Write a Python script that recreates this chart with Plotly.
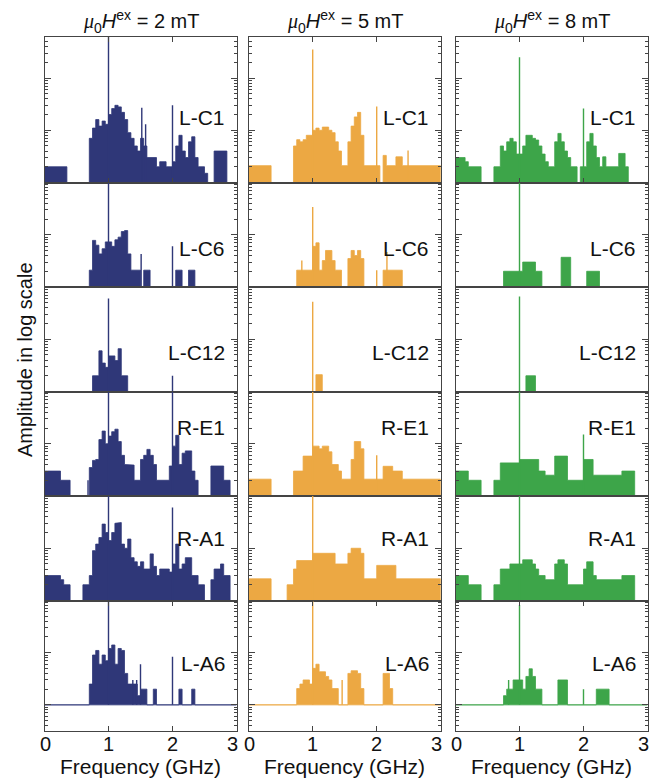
import plotly.graph_objects as go

# ---------------- data ----------------
FREQ_MAX = 3.0
BIN = 0.05          # frequency bin width (GHz) of the amplitude lists
FLOOR = 1.0         # noise floor amplitude (arb. units)

field_labels = ["2 mT", "5 mT", "8 mT"]
sample_labels = ["L-C1", "L-C6", "L-C12", "R-E1", "R-A1", "L-A6"]
freq_ticks = [0, 1, 2, 3]
colors = ["#2f3778", "#eca843", "#3da549"]

# ---- 2 mT ----
a2_LC1 = [2, 2, 2, 2, 2, 2, 2, 1, 1, 1,
          1, 1, 1, 1, 7, 11, 16, 12, 15, 13,
          20, 26, 30, 28, 22, 16, 9, 7, 5, 4,
          7, 5, 3, 3, 3, 2, 2.5, 2.5, 2, 2,
          2.5, 5, 8, 4, 3, 6, 7.5, 3, 2, 2,
          1.5, 1, 1, 4, 4, 4, 4, 1, 1, 1]
s2_LC1 = [(1.0, 1000), (1.52, 27), (1.58, 13), (2.0, 30)]

a2_LC6 = [1, 1, 1, 1, 1, 1, 1, 1, 1, 1,
          1, 1, 1, 1, 2.1, 7.8, 6.3, 4.3, 5.4, 7.3,
          7.3, 6, 8, 9, 11.5, 12, 4.3, 2.1, 2.1, 2.1,
          1, 2.1, 2.1, 1, 1, 1, 1, 1, 1, 1,
          1, 2.1, 2.1, 1, 1, 2.1, 2.1, 1, 1, 1,
          1, 1, 1, 1, 1, 1, 1, 1, 1, 1]
s2_LC6 = [(1.0, 1000), (1.51, 4.3), (2.0, 6)]

a2_LC12 = [1, 1, 1, 1, 1, 1, 1, 1, 1, 1,
           1, 1, 1, 1, 1, 2, 2, 6, 3.5, 2.9,
           4.8, 4.8, 3.9, 6.6, 2, 2, 1, 1, 1, 1,
           1, 1, 1, 1, 1, 1, 1, 1, 1, 1,
           1, 1, 1, 1, 1, 1, 1, 1, 1, 1,
           1, 1, 1, 1, 1, 1, 1, 1, 1, 1]
s2_LC12 = [(1.0, 60), (2.0, 2.0)]

a2_RE1 = [3, 3, 3, 3, 3, 2, 2, 2, 1, 1,
          1, 1, 1, 1, 3.5, 4.8, 5, 12, 17.5, 10,
          14, 17, 19, 11, 6, 4, 3.9, 3.9, 2, 2,
          5, 6, 7.8, 6, 4, 2, 2, 2, 2, 3.75,
          9, 14.5, 4, 6.6, 7.3, 7.3, 3, 2, 1, 1,
          1, 1, 3.75, 3.75, 3.75, 3.75, 2, 2, 1, 1]
s2_RE1 = [(1.0, 1000), (2.0, 1000), (0.68, 2.0)]

a2_RA1 = [3, 3, 3, 3, 3, 2.5, 2, 2, 1, 1,
          1, 1, 2, 2, 3, 9, 12, 16, 29, 20,
          14, 20, 30, 31, 12, 10, 15, 6.6, 5.5, 4.5,
          5.5, 4, 4, 7.8, 4.5, 3, 4, 4, 4, 3.5,
          5, 12, 4, 5, 6.6, 6.6, 3, 3, 2, 2,
          1, 1, 2.5, 4, 4, 5, 3, 3, 1, 1]
s2_RA1 = [(1.0, 1000), (2.0, 60)]

a2_LA6 = [1, 1, 1, 1, 1, 1, 1, 1, 1, 1,
          1, 1, 1, 1, 2.5, 9, 11, 6, 9, 7,
          12, 14, 6, 12, 11, 4, 2.5, 2.5, 2.5, 1.5,
          2, 2, 1, 1, 2, 1, 1, 1, 1, 1,
          1, 1, 2, 1, 1, 1, 2, 1, 1, 1,
          1, 1, 1, 1, 1, 1, 1, 1, 1, 1]
s2_LA6 = [(1.0, 1000), (1.5, 6), (2.0, 8.3), (1.38, 3), (1.44, 3)]

# ---- 5 mT ----
a5_LC1 = [2.1, 2.1, 2.1, 2.1, 2.1, 2.1, 2.1, 1, 1, 1,
          1, 1, 1, 1, 5, 6.6, 6, 6.6, 8, 8,
          10, 11, 10, 11.5, 11.5, 10, 9, 6, 4, 2.1,
          2.1, 6, 12, 18, 22, 8, 2.1, 2.1, 2.1, 2.1,
          2.1, 1, 3.3, 2.1, 2.1, 2.1, 3.1, 3.1, 2.1, 2.1,
          2.1, 2.1, 2.1, 2.1, 2.1, 2.1, 2.1, 2.1, 2.1, 2.1]
s5_LC1 = [(1.0, 350), (2.0, 28.5), (2.49, 4.1)]

a5_LC6 = [1, 1, 1, 1, 1, 1, 1, 1, 1, 1,
          1, 1, 1, 1, 1, 2.1, 2.1, 2.1, 2.1, 2.1,
          6, 7, 2.1, 3.2, 5, 5, 3.2, 2.1, 2.1, 1,
          1, 3.5, 5, 4, 5, 3.5, 1, 1, 1, 1,
          1, 1, 2.1, 2.1, 2.1, 2.1, 2.1, 2.1, 1, 1,
          1, 1, 1, 1, 1, 1, 1, 1, 1, 1]
s5_LC6 = [(1.0, 34), (2.0, 2.1), (2.16, 4.7), (0.83, 3.2)]

a5_LC12 = [1, 1, 1, 1, 1, 1, 1, 1, 1, 1,
           1, 1, 1, 1, 1, 1, 1, 1, 1, 1,
           1, 2.1, 2.1, 1, 1, 1, 1, 1, 1, 1,
           1, 1, 1, 1, 1, 1, 1, 1, 1, 1,
           1, 1, 1, 1, 1, 1, 1, 1, 1, 1,
           1, 1, 1, 1, 1, 1, 1, 1, 1, 1]
s5_LC12 = [(1.0, 52)]

a5_RE1 = [2.1, 2.1, 2.1, 2.1, 2.1, 2.1, 2.1, 1, 1, 1,
          1, 1, 1, 1, 3, 3, 3, 5.8, 5.8, 5.8,
          9, 9, 8, 9, 9, 7, 4, 4, 3, 2.1,
          2.1, 2.1, 5, 11, 11, 8, 2.1, 2.1, 2.1, 2.1,
          2.1, 2.1, 3.7, 3.7, 3.7, 3, 3, 3, 2.1, 2.1,
          2.1, 2.1, 2.1, 2.1, 2.1, 2.1, 2.1, 2.1, 2.1, 2.1]
s5_RE1 = [(1.0, 1000), (2.0, 6)]

a5_RA1 = [2.6, 2.6, 2.6, 2.6, 2.6, 2.6, 2.6, 1, 1, 1,
          1, 1, 2, 2, 4, 5.8, 5.8, 5.8, 5.8, 5.8,
          8, 8, 8, 8, 8, 8, 8, 5, 5, 5,
          5, 8, 10, 10, 10, 8, 2.6, 2.6, 2.6, 2.6,
          4.7, 4.7, 4.7, 4.7, 4.7, 4.7, 2.6, 2.6, 2.6, 2.6,
          2.6, 2.6, 2.6, 2.6, 2.6, 2.6, 2.6, 2.6, 2.6, 2.6]
s5_RA1 = [(1.0, 1000)]

a5_LA6 = [1, 1, 1, 1, 1, 1, 1, 1, 1, 1,
          1, 1, 1, 1, 1, 2.05, 2.5, 3, 3, 2.5,
          5, 6, 4.3, 4.3, 3.5, 3, 2.05, 2.05, 1, 1,
          1, 4, 4.5, 4.5, 4, 2.05, 1, 1, 1, 1,
          1, 1, 4, 4, 2.05, 1, 1, 1, 1, 1,
          1, 1, 1, 1, 1, 1, 1, 1, 1, 1]
s5_LA6 = [(1.0, 1000), (1.46, 3)]

# ---- 8 mT ----
a8_LC1 = [3, 3, 3, 2.5, 2, 2, 2, 2, 1, 1,
          1, 1, 2, 2, 5, 4, 6, 7, 6, 3.5,
          3.5, 5, 8, 8, 7, 6.5, 5, 3.5, 2.5, 2,
          2, 6, 8.7, 6, 4, 3, 2, 2, 1, 2,
          2, 6, 8.7, 5, 3, 2, 3.1, 2, 2, 2,
          2, 3.6, 3.6, 2, 1, 1, 1, 1, 1, 1]
s8_LC1 = [(1.0, 250), (2.0, 26)]

a8_LC6 = [1, 1, 1, 1, 1, 1, 1, 1, 1, 1,
          1, 1, 1, 1, 1, 2, 2, 2, 2, 2,
          2, 3, 3, 3, 3, 2, 2, 1, 1, 1,
          1, 1, 1, 3.7, 3.7, 3.7, 1, 1, 1, 1,
          1, 2, 2, 2, 2, 1, 1, 1, 1, 1,
          1, 1, 1, 1, 1, 1, 1, 1, 1, 1]
s8_LC6 = [(1.0, 1000)]

a8_LC12 = [1, 1, 1, 1, 1, 1, 1, 1, 1, 1,
           1, 1, 1, 1, 1, 1, 1, 1, 1, 1,
           1, 1, 2, 2, 2, 1, 1, 1, 1, 1,
           1, 1, 1, 1, 1, 1, 1, 1, 1, 1,
           1, 1, 1, 1, 1, 1, 1, 1, 1, 1,
           1, 1, 1, 1, 1, 1, 1, 1, 1, 1]
s8_LC12 = [(1.0, 66)]

a8_RE1 = [3, 3, 3, 3, 2, 2, 2, 2, 1, 1,
          1, 1, 2, 2, 4.3, 4.3, 4.3, 4.3, 4.3, 4.3,
          5, 5, 5, 5, 5, 5, 3, 3, 2.5, 2.5,
          2.5, 5.8, 5.8, 5.8, 5.8, 2, 2, 2, 2, 2,
          5, 5, 5, 2.5, 2.5, 2.5, 2.5, 2.5, 2.5, 2.5,
          2.5, 2.5, 3, 3, 3, 3, 1, 1, 1, 1]
s8_RE1 = [(1.0, 1000), (2.0, 15)]

a8_RA1 = [3, 3, 3, 3, 2, 2, 2, 2, 1, 1,
          1, 1, 2, 2, 4, 4, 4, 5, 5, 5,
          5, 6, 6, 6, 5, 4, 3, 3, 2.5, 2.5,
          2.5, 5, 6, 6, 5, 2, 2, 2, 2, 2,
          4, 5.5, 5.5, 3, 2.5, 2.5, 2.5, 2.5, 2.5, 2.5,
          2.5, 2.5, 3, 3, 3, 3, 1, 1, 1, 1]
s8_RA1 = [(1.0, 1000)]

a8_LA6 = [1, 1, 1, 1, 1, 1, 1, 1, 1, 1,
          1, 1, 1, 1, 1, 1.5, 2, 2, 3, 3,
          3, 2, 3.5, 4.9, 3.5, 2, 2, 1, 1, 1,
          1, 1, 3, 3, 3, 1, 1, 1, 1, 1,
          1, 1, 1, 1, 2, 2, 2, 2, 1, 1,
          1, 1, 1, 1, 1, 1, 1, 1, 1, 1]
s8_LA6 = [(1.0, 82), (2.0, 2.0), (0.83, 3)]

amps = [[a2_LC1, a2_LC6, a2_LC12, a2_RE1, a2_RA1, a2_LA6],
        [a5_LC1, a5_LC6, a5_LC12, a5_RE1, a5_RA1, a5_LA6],
        [a8_LC1, a8_LC6, a8_LC12, a8_RE1, a8_RA1, a8_LA6]]
spikes = [[s2_LC1, s2_LC6, s2_LC12, s2_RE1, s2_RA1, s2_LA6],
          [s5_LC1, s5_LC6, s5_LC12, s5_RE1, s5_RA1, s5_LA6],
          [s8_LC1, s8_LC6, s8_LC12, s8_RE1, s8_RA1, s8_LA6]]

# ---------------- layout geometry (pixels) ----------------
W, H = 672, 783
col_px = [(44.5, 236.5), (248.7, 440.7), (455.5, 647.5)]
row_px = [(37, 182.5), (182.5, 287), (287, 391.5), (391.5, 496), (496, 600.5), (600.5, 731)]
DECADE = 52.25
label_y = [118, 248.3, 352.3, 427.5, 538.3, 663.3]
FRAME = "#444444"
FONT = "Liberation Sans, Arial, Helvetica, sans-serif"
TXT = "#111111"

fig = go.Figure()
layout = {}
annotations = []

for c in range(3):
    for r in range(6):
        n = r * 3 + c + 1
        sfx = "" if n == 1 else str(n)
        xa, ya = "x" + sfx, "y" + sfx
        vals = amps[c][r]
        xs, ys = [0.0], [FLOOR]
        for i, v in enumerate(vals):
            x0 = i * BIN
            xs += [x0, x0 + BIN]
            ys += [v, v]
        xs += [FREQ_MAX, 0.0]
        ys += [FLOOR, FLOOR]
        fig.add_trace(go.Scatter(x=xs, y=ys, mode="lines", fill="toself",
                                 fillcolor=colors[c],
                                 line=dict(color=colors[c], width=0.8),
                                 xaxis=xa, yaxis=ya, hoverinfo="skip",
                                 showlegend=False))
        sx, sy = [], []
        for f, a in spikes[c][r]:
            sx += [f, f, None]
            sy += [FLOOR, a, None]
        fig.add_trace(go.Scatter(x=sx, y=sy, mode="lines",
                                 line=dict(color=colors[c], width=1.4),
                                 xaxis=xa, yaxis=ya, hoverinfo="skip",
                                 showlegend=False))

        top, bot = row_px[r]
        ybottom = -0.5 if r == 5 else 0.0
        ytop = ybottom + (bot - top) / DECADE
        x0p, x1p = col_px[c]
        xaxis = dict(domain=[x0p / W, x1p / W], range=[0, FREQ_MAX],
                     anchor=ya, showline=True, linecolor=FRAME, linewidth=1,
                     mirror=True, showgrid=False, zeroline=False,
                     ticks="", showticklabels=False, fixedrange=True)
        if r == 0 or r == 5:
            xaxis.update(ticks="inside", ticklen=5, tickcolor=FRAME,
                         tickvals=freq_ticks, mirror="allticks")
        yaxis = dict(type="log", domain=[1 - bot / H, 1 - top / H],
                     range=[ybottom, ytop], anchor=xa, showline=True,
                     linecolor=FRAME, linewidth=1, mirror="allticks",
                     ticks="inside", ticklen=6, tickcolor=FRAME, dtick=1,
                     showticklabels=False, showgrid=False, zeroline=False,
                     minor=dict(ticks="inside", ticklen=3, tickcolor=FRAME,
                                dtick="D1", showgrid=False),
                     fixedrange=True)
        layout["xaxis" + sfx] = xaxis
        layout["yaxis" + sfx] = yaxis

        annotations.append(dict(x=(x1p - 9.5) / W, y=1 - label_y[r] / H,
                                xref="paper", yref="paper", xanchor="right",
                                yanchor="middle", showarrow=False,
                                text=sample_labels[r],
                                font=dict(family=FONT, size=21, color=TXT)))

        if r == 5:
            for t in freq_ticks:
                shift = 1 if t == 0 else (-4.5 if t == FREQ_MAX else 0)
                annotations.append(dict(
                    x=t, y=1 - 743.5 / H, xref=xa, yref="paper",
                    xanchor="center", yanchor="middle", xshift=shift,
                    showarrow=False, text=str(t),
                    font=dict(family=FONT, size=20, color=TXT)))

for c in range(3):
    x0p, x1p = col_px[c]
    cx = (x0p + x1p) / 2
    annotations.append(dict(
        x=cx / W, y=1 - 21.5 / H, xref="paper", yref="paper",
        xanchor="center", yanchor="middle", showarrow=False,
        text=("<span style='font-family:Liberation Serif'><i>\u03bc</i></span>"
              "<sub>0</sub><i>H</i><sup>ex</sup> = " + field_labels[c]),
        font=dict(family=FONT, size=20, color=TXT)))
    annotations.append(dict(
        x=cx / W, y=1 - 766 / H, xref="paper", yref="paper",
        xanchor="center", yanchor="middle", showarrow=False,
        text="Frequency (GHz)",
        font=dict(family=FONT, size=21, color=TXT)))

annotations.append(dict(x=25 / W, y=1 - 360 / H, xref="paper", yref="paper",
                        xanchor="center", yanchor="middle", showarrow=False,
                        textangle=-90, text="Amplitude in log scale",
                        font=dict(family=FONT, size=20, color=TXT)))

fig.update_layout(width=W, height=H, margin=dict(l=0, r=0, t=0, b=0),
                  paper_bgcolor="white", plot_bgcolor="white",
                  annotations=annotations, **layout)

fig.write_html("out.html")
